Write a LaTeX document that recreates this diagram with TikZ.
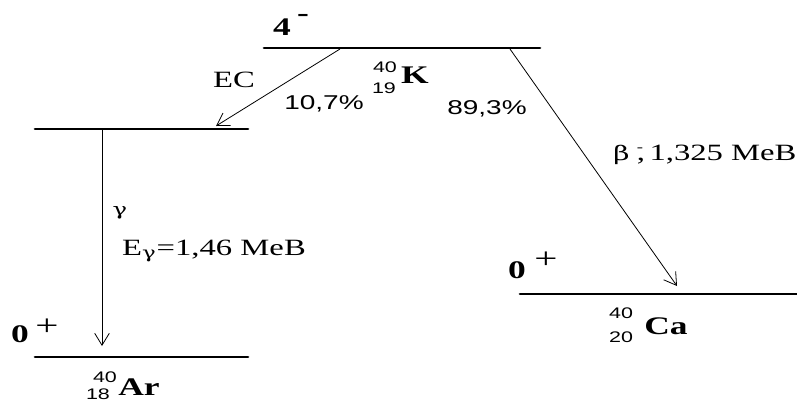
\documentclass[tikz,border=0pt]{standalone}
\usepackage{fontspec}
\setmainfont{Liberation Serif}
\newfontfamily\arialf{Liberation Sans}
\newfontfamily\grkf{DejaVu Serif}
\usepackage{graphicx}
\usetikzlibrary{arrows.meta}
\newcommand{\sx}[1]{\scalebox{1.4}[1]{#1}}
\tikzset{
  lvl/.style={line width=2pt, line cap=round},
  trans/.style={line width=0.6pt, -{Straight Barb[length=9pt,width=11pt,line width=0.6pt]}},
  txt/.style={inner sep=0pt, font=\fontsize{17.5}{19}\selectfont},
  plus/.style={inner sep=0pt, font=\fontsize{22}{24}\selectfont},
  sans/.style={inner sep=0pt, font=\arialf\fontsize{15}{17}\selectfont},
  small/.style={inner sep=0pt, font=\arialf\fontsize{11.5}{13}\selectfont},
  boldlab/.style={inner sep=0pt, font=\bfseries\fontsize{19}{21}\selectfont},
}
\begin{document}
\begin{tikzpicture}[x=0.75pt,y=-0.75pt]
\useasboundingbox (0,0) rectangle (797,408);
% levels
\coordinate (Ka) at (264,48);  \coordinate (Kb) at (540,48);
\coordinate (Xa) at (35,129);  \coordinate (Xb) at (248,129);
\coordinate (Aa) at (35,357);  \coordinate (Ab) at (248,357);
\coordinate (Ca) at (520,294); \coordinate (Cb) at (797,294);
\draw[lvl] (Ka) -- (Kb);
\draw[lvl] (Xa) -- (Xb);
\draw[lvl] (Aa) -- (Ab);
\draw[lvl] (Ca) -- (Cb);
% transitions
\coordinate (ecs) at (340,49);  \coordinate (ect) at (216,126);
\coordinate (bs) at (510,49);   \coordinate (bt) at (677,286);
\coordinate (gs) at (102,129);  \coordinate (gt) at (102,346);
\draw[trans] (ecs) -- (ect);
\draw[trans] (bs) -- (bt);
\draw[trans] (gs) -- (gt);
% K label
\node[boldlab] (j4) at (282,27) {\sx{4}};
\node[boldlab] (j4m) at (303,18) {\sx{-}};
\node[small] (k40) at (385,67) {\sx{40}};
\node[small] (k19) at (384,88) {\sx{19}};
\node[boldlab] (kK) at (415,75) {\sx{K}};
% EC branch
\node[txt] (ec) at (234,80) {\sx{EC}};
\node[sans] (p107) at (324,104) {\sx{10,7\%}};
% beta branch
\node[sans] (p893) at (487,109) {\sx{89,3\%}};
\node[txt, anchor=west] (beta) at (613,155) {\sx{{\grkf\fontsize{15}{17}\selectfont β}\hspace{4pt}\rlap{\raisebox{7pt}{\fontsize{10}{12}\selectfont -}},}};
\node[txt] (be) at (723,155) {\sx{1,325 MeB}};
% gamma
\node[txt] (gam) at (120,213) {\sx{\grkf\fontsize{13}{15}\selectfont γ}};
\node[txt] (eg) at (214,251) {\sx{E\textsubscript{\grkf γ}=1,46 MeB}};
% Ar ground
\node[boldlab] (a0) at (20,334) {\sx{0}};
\node[plus] (ap) at (47,327) {\sx{+}};
\node[small] (a40) at (105,377) {\sx{40}};
\node[small] (a18) at (98,394) {\sx{18}};
\node[boldlab] (aAr) at (139,387) {\sx{Ar}};
% Ca ground
\node[boldlab] (c0) at (517,270) {\sx{0}};
\node[plus] (cp) at (546,260) {\sx{+}};
\node[small] (c40) at (621,313) {\sx{40}};
\node[small] (c20) at (621,337) {\sx{20}};
\node[boldlab] (cCa) at (666,326) {\sx{Ca}};
\end{tikzpicture}
\end{document}
